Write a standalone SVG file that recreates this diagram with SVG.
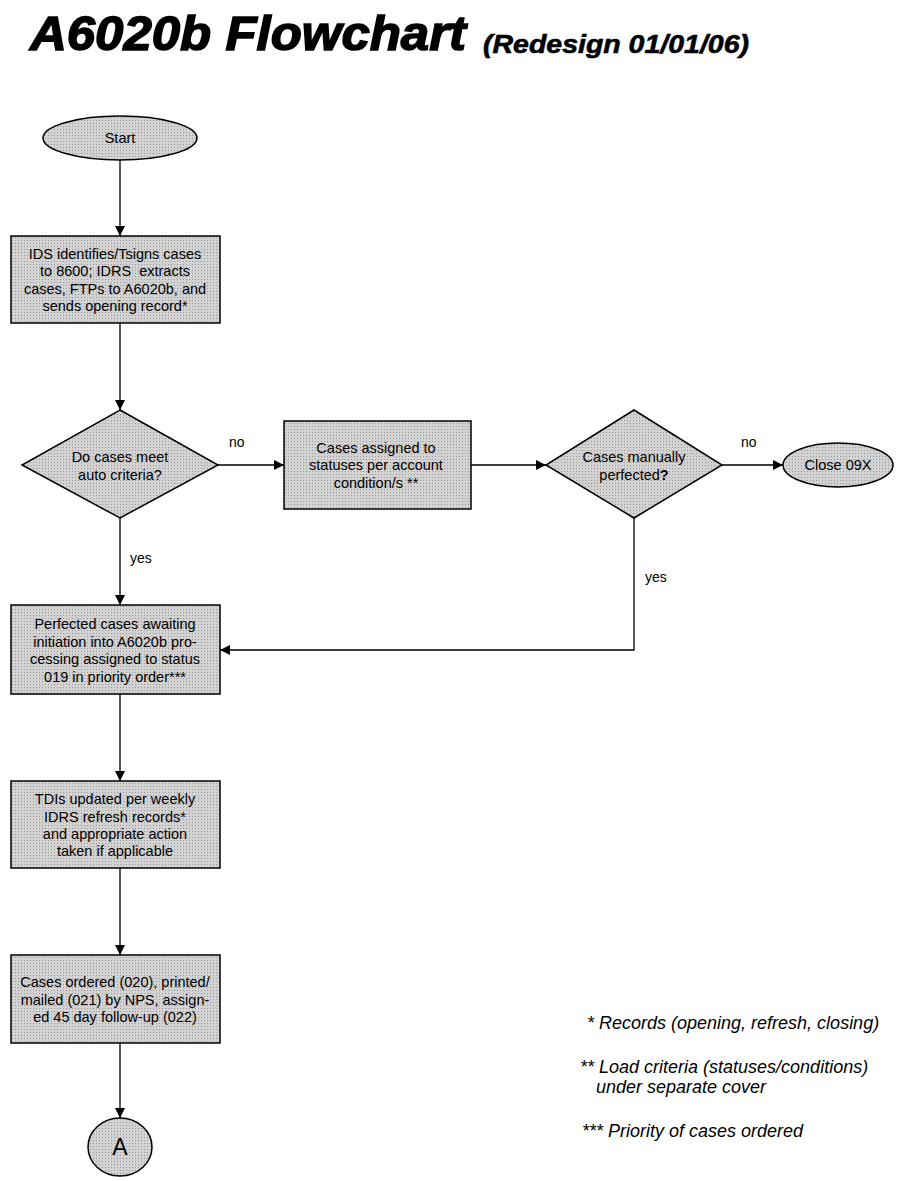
<svg xmlns="http://www.w3.org/2000/svg" width="902" height="1181" viewBox="0 0 902 1181">
<defs>
<pattern id="dots" width="3" height="3" patternUnits="userSpaceOnUse">
<rect width="3" height="3" fill="#d2d2d2"/>
<rect width="1" height="1" fill="#9a9a9a"/>
</pattern>
<marker id="arr" viewBox="0 0 10 10" refX="10" refY="5" markerWidth="10" markerHeight="10" markerUnits="userSpaceOnUse" orient="auto">
<path d="M0,0 L10,5 L0,10 z" fill="#000"/>
</marker>
</defs>
<style>
.shape{fill:url(#dots);stroke:#000;stroke-width:1.5}
.t{font-family:"Liberation Sans",Arial,sans-serif;font-size:14.5px;fill:#000;text-anchor:middle}
.lbl{font-family:"Liberation Sans",Arial,sans-serif;font-size:14px;fill:#000}
.fn{font-family:"Liberation Sans",Arial,sans-serif;font-size:18px;font-style:italic;fill:#000}
.c{fill:none;stroke:#000;stroke-width:1.3;marker-end:url(#arr)}
</style>
<rect width="902" height="1181" fill="#fff"/>
<text x="30" y="50" font-family="'Liberation Sans',Arial,sans-serif" font-size="48" font-weight="bold" font-style="italic" stroke="#000" stroke-width="1.5" textLength="436" lengthAdjust="spacingAndGlyphs">A6020b Flowchart</text>
<text x="483" y="53" font-family="'Liberation Sans',Arial,sans-serif" font-size="25" font-weight="bold" font-style="italic" stroke="#000" stroke-width="0.6" textLength="266" lengthAdjust="spacingAndGlyphs">(Redesign 01/01/06)</text>

<g id="connectors">
<line class="c" x1="120" y1="160" x2="120" y2="236"/>
<line class="c" x1="120" y1="323" x2="120" y2="410"/>
<line class="c" x1="218" y1="465" x2="284" y2="465"/>
<line class="c" x1="471" y1="465" x2="546" y2="465"/>
<line class="c" x1="722" y1="465" x2="783" y2="465"/>
<line class="c" x1="120" y1="518" x2="120" y2="605"/>
<polyline class="c" points="634,518 634,650 220,650"/>
<line class="c" x1="120" y1="694" x2="120" y2="781"/>
<line class="c" x1="120" y1="868" x2="120" y2="955"/>
<line class="c" x1="120" y1="1043" x2="120" y2="1118"/>
<text class="lbl" x="229" y="447">no</text>
<text class="lbl" x="741" y="447">no</text>
<text class="lbl" x="130" y="563">yes</text>
<text class="lbl" x="645" y="582">yes</text>
</g>

<g id="start">
<ellipse class="shape" cx="120" cy="138" rx="77" ry="22"/>
<text class="t" x="120" y="143">Start</text>
</g>

<g id="ids">
<rect class="shape" x="11" y="236" width="209" height="87"/>
<text class="t" x="115" y="259">IDS identifies/Tsigns cases</text>
<text class="t" x="115" y="276" xml:space="preserve">to 8600; IDRS  extracts</text>
<text class="t" x="115" y="294">cases, FTPs to A6020b, and</text>
<text class="t" x="115" y="311">sends opening record*</text>
</g>

<g id="auto">
<polygon class="shape" points="120,410 218,465 120,518 22,465"/>
<text class="t" x="120" y="462">Do cases meet</text>
<text class="t" x="120" y="480">auto criteria?</text>
</g>

<g id="assigned">
<rect class="shape" x="284" y="421" width="187" height="88"/>
<text class="t" x="376" y="453">Cases assigned to</text>
<text class="t" x="376" y="470">statuses per account</text>
<text class="t" x="376" y="488">condition/s **</text>
</g>

<g id="manual">
<polygon class="shape" points="634,410 722,465 634,518 546,465"/>
<text class="t" x="634" y="462">Cases manually</text>
<text class="t" x="634" y="480">perfected<tspan font-weight="bold">?</tspan></text>
</g>

<g id="close">
<ellipse class="shape" cx="838" cy="465" rx="55" ry="22"/>
<text class="t" x="838" y="470">Close 09X</text>
</g>

<g id="perfected">
<rect class="shape" x="11" y="605" width="209" height="89"/>
<text class="t" x="115" y="629">Perfected cases awaiting</text>
<text class="t" x="115" y="647">initiation into A6020b pro-</text>
<text class="t" x="115" y="664">cessing assigned to status</text>
<text class="t" x="115" y="682">019 in priority order***</text>
</g>

<g id="tdis">
<rect class="shape" x="11" y="781" width="209" height="87"/>
<text class="t" x="115" y="804">TDIs updated per weekly</text>
<text class="t" x="115" y="822">IDRS refresh records*</text>
<text class="t" x="115" y="839">and appropriate action</text>
<text class="t" x="115" y="856">taken if applicable</text>
</g>

<g id="ordered">
<rect class="shape" x="11" y="955" width="209" height="88"/>
<text class="t" x="115" y="987">Cases ordered (020), printed/</text>
<text class="t" x="115" y="1005">mailed (021) by NPS, assign-</text>
<text class="t" x="115" y="1022">ed 45 day follow-up (022)</text>
</g>

<g id="a">
<ellipse class="shape" cx="120" cy="1147" rx="32" ry="29"/>
<text x="120" y="1155" text-anchor="middle" font-family="'Liberation Sans',Arial,sans-serif" font-size="23">A</text>
</g>

<g id="notes">
<text class="fn" x="587" y="1029">* Records (opening, refresh, closing)</text>
<text class="fn" x="580" y="1073">** Load criteria (statuses/conditions)</text>
<text class="fn" x="596" y="1093">under separate cover</text>
<text class="fn" x="582" y="1137">*** Priority of cases ordered</text>
</g>
</svg>
